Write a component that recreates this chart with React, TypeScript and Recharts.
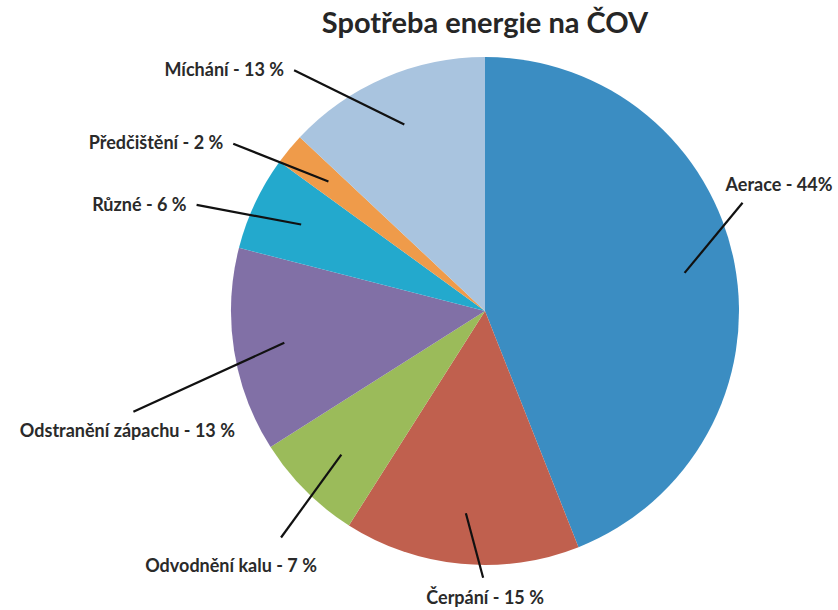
import React from 'react';
import { PieChart, Pie, Cell } from 'recharts';

const categories = [
  'Aerace',
  'Čerpání',
  'Odvodnění kalu',
  'Odstranění zápachu',
  'Různé',
  'Předčištění',
  'Míchání',
];
const shares = [44, 15, 7, 13, 6, 2, 13];
const colors = ['#3B8DC2', '#C0604E', '#9BBB5A', '#8170A6', '#23A9CD', '#EF9B4A', '#A9C4DF'];

const data = categories.map((name, i) => ({ name, value: shares[i] }));

// leader line: rotate from slice middle, length as fraction of radius; text offset from line end
const leaders = [
  { rot: 12, len: 1.1, dx: -17, dy: -12, anchor: 'start' },
  { rot: 5, len: 1.05, dx: 2, dy: 26, anchor: 'middle' },
  { rot: 3, len: 1.2, dx: -50, dy: 34, anchor: 'middle' },
  { rot: 7, len: 1.44, dx: -6, dy: 25, anchor: 'middle' },
  { rot: 5, len: 1.21, dx: -10, dy: 6, anchor: 'end' },
  { rot: 6, len: 1.19, dx: -10, dy: 5, anchor: 'end' },
  { rot: 15, len: 1.21, dx: -10, dy: 6, anchor: 'end' },
];

const RAD = Math.PI / 180;
const polar = (cx: number, cy: number, r: number, a: number) => ({
  x: cx + r * Math.cos(-a * RAD),
  y: cy + r * Math.sin(-a * RAD),
});

const renderLabel = (props: any) => {
  const { cx, cy, midAngle, outerRadius, index } = props;
  const l = leaders[index];
  const p1 = polar(cx, cy, outerRadius * 0.8, midAngle);
  const p2 = polar(cx, cy, outerRadius * l.len, midAngle + l.rot);
  const text = `${categories[index]} - ${shares[index]}${index === 0 ? '' : ' '}%`;
  return (
    <g key={`lbl-${index}`}>
      <line x1={p1.x} y1={p1.y} x2={p2.x} y2={p2.y} stroke="#111" strokeWidth={2.2} />
      <text
        x={p2.x + l.dx}
        y={p2.y + l.dy}
        textAnchor={l.anchor}
        fontFamily="Lato, 'Open Sans', sans-serif"
        fontWeight={700}
        fontSize={18}
        fill="#2a2a2a"
      >
        {text}
      </text>
    </g>
  );
};

export default function App() {
  return (
    <div style={{ position: 'absolute', left: 0, top: 0, width: 838, height: 610, background: '#fff' }}>
      <div
        style={{
          position: 'absolute',
          left: 0,
          width: 970,
          top: 4,
          textAlign: 'center',
          fontFamily: "Lato, 'Open Sans', sans-serif",
          fontWeight: 700,
          fontSize: 29,
          color: '#262626',
        }}
      >
        Spotřeba energie na ČOV
      </div>
      <PieChart width={838} height={610}>
        <Pie
          data={data}
          dataKey="value"
          nameKey="name"
          cx={480}
          cy={306}
          outerRadius={254}
          startAngle={90}
          endAngle={-270}
          stroke="none"
          label={renderLabel}
          labelLine={false}
          isAnimationActive={false}
        >
          {data.map((d, i) => (
            <Cell key={d.name} fill={colors[i]} />
          ))}
        </Pie>
      </PieChart>
    </div>
  );
}
